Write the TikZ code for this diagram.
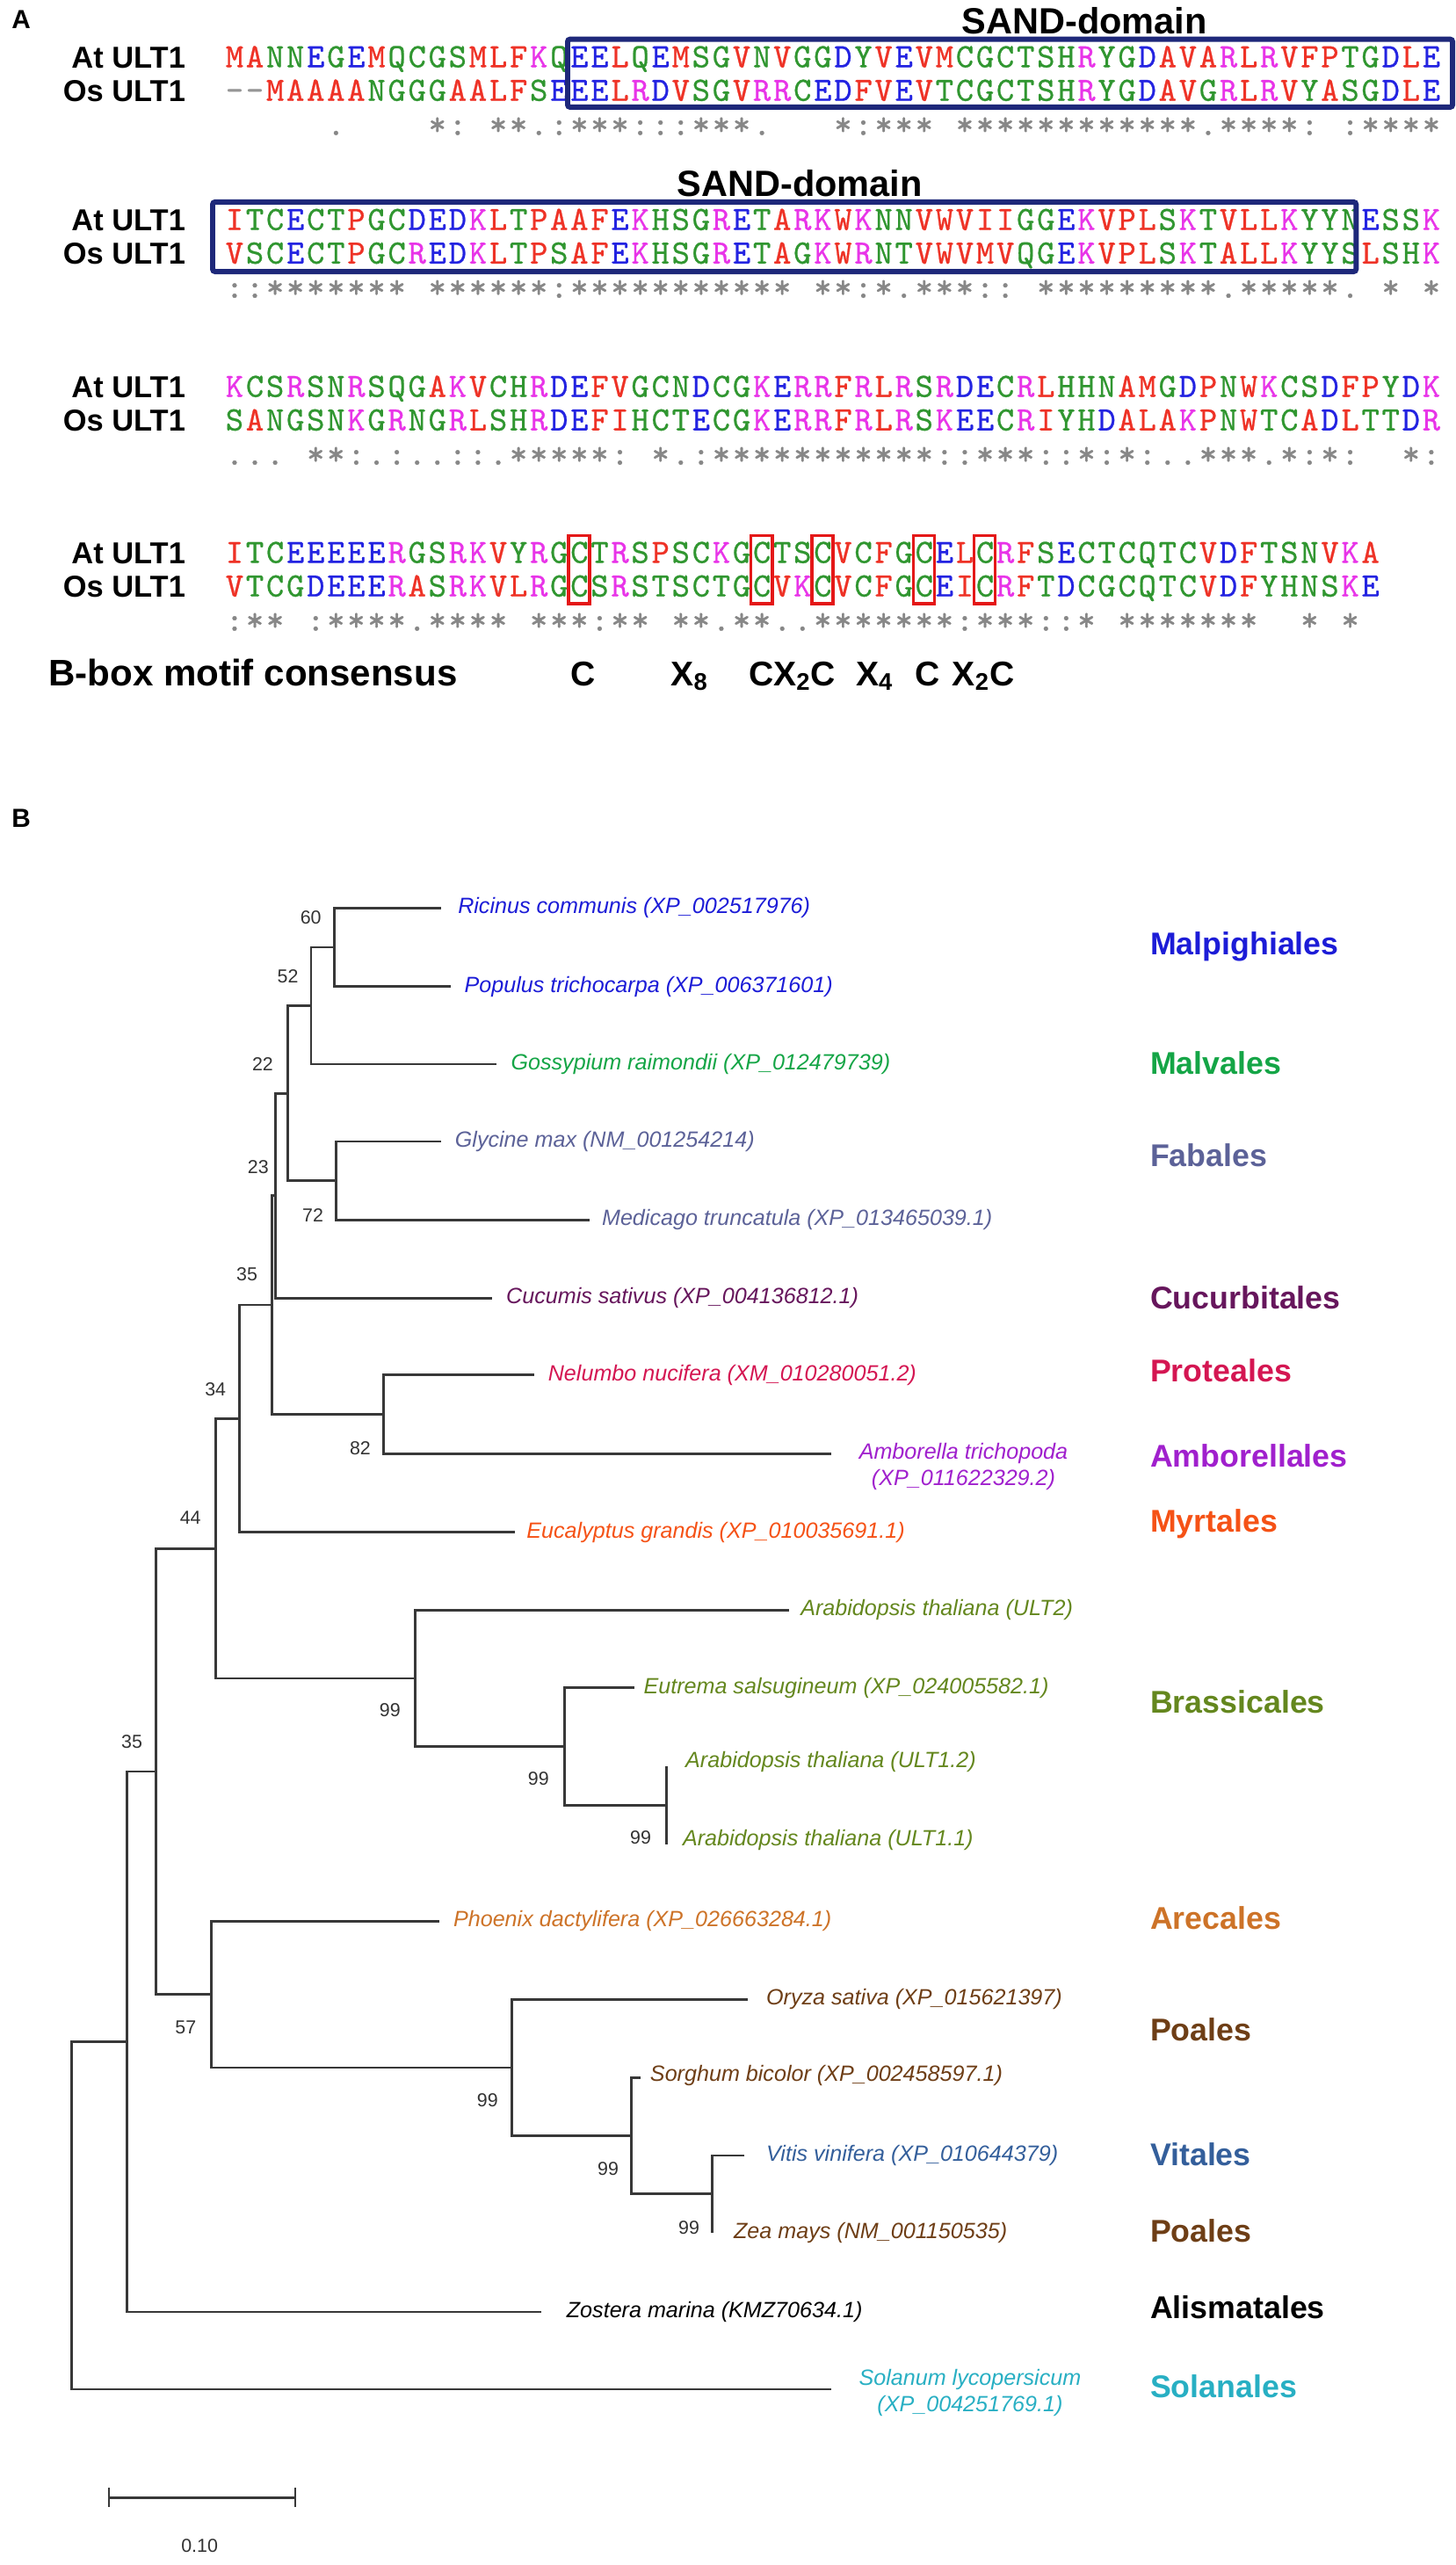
\documentclass[tikz,border=0pt]{standalone}
\usepackage{fontspec}
\setmainfont{Liberation Sans}
\newfontfamily\seqf{lmmono10-regular.otf}[FakeBold=0.7]
\definecolor{sqR}{RGB}{238,50,38}
\definecolor{sqB}{RGB}{35,35,225}
\definecolor{sqM}{RGB}{232,52,232}
\definecolor{sqG}{RGB}{48,150,48}
\definecolor{sqK}{RGB}{150,150,150}
\definecolor{consgray}{RGB}{135,135,135}
\definecolor{navy}{RGB}{30,40,122}
\definecolor{boxred}{RGB}{228,24,24}
\definecolor{cMalp}{RGB}{28,28,215}
\definecolor{cMalv}{RGB}{20,165,70}
\definecolor{cFab}{RGB}{92,98,152}
\definecolor{cCuc}{RGB}{102,22,92}
\definecolor{cPro}{RGB}{212,22,82}
\definecolor{cAmb}{RGB}{160,32,205}
\definecolor{cMyr}{RGB}{245,82,22}
\definecolor{cBra}{RGB}{100,135,30}
\definecolor{cAre}{RGB}{205,115,40}
\definecolor{cPoa}{RGB}{110,62,22}
\definecolor{cVit}{RGB}{52,95,155}
\definecolor{cSol}{RGB}{40,175,195}
\newdimen\cw \cw=12.4pt
\def\setaa#1#2{\expandafter\def\csname aac#1\endcsname{#2}}
\setaa A{sqR}\setaa V{sqR}\setaa F{sqR}\setaa P{sqR}\setaa M{sqR}\setaa I{sqR}\setaa L{sqR}\setaa W{sqR}
\setaa D{sqB}\setaa E{sqB}
\setaa R{sqM}\setaa K{sqM}
\setaa S{sqG}\setaa T{sqG}\setaa Y{sqG}\setaa H{sqG}\setaa C{sqG}\setaa N{sqG}\setaa G{sqG}\setaa Q{sqG}
\setaa -{sqK}
\def\colseq#1{\colseqi#1\relax}
\def\colseqi#1{\ifx\relax#1\else\makebox[\cw][c]{\textcolor{\csname aac#1\endcsname}{#1}}\expandafter\colseqi\fi}
\def\consq#1{\consqi#1\relax}
\def\consqi#1{\ifx\relax#1\else\makebox[\cw][c]{#1}\expandafter\consqi\fi}
\tikzset{
  seqtxt/.style={font=\seqf\fontsize{20.8}{24}\selectfont, inner sep=0pt, anchor=base west},
  consrow/.style={seqtxt, text=consgray},
  rowlab/.style={font=\bfseries\fontsize{18.5}{20}\selectfont, inner sep=0pt, anchor=base east},
  sandlab/.style={font=\bfseries\fontsize{22.3}{24}\selectfont, inner sep=0pt},
  sandbox/.style={draw=navy, line width=3.2pt, rounded corners=1.5pt},
  bboxc/.style={draw=boxred, line width=1.8pt},
  motif/.style={font=\bfseries\fontsize{21}{24}\selectfont, inner sep=0pt, anchor=base west},
  panel/.style={font=\bfseries\fontsize{16}{18}\selectfont, inner sep=0pt},
  br/.style={draw=black!78, line width=1.5pt},
  sp/.style={font=\itshape\fontsize{13.5}{16}\selectfont, inner sep=0pt, anchor=west},
  ord/.style={font=\bfseries\fontsize{19.2}{22}\selectfont, inner sep=0pt, anchor=west},
  bs/.style={font=\fontsize{11.5}{13}\selectfont, text=black!80, inner sep=0pt}
}
\begin{document}
\begin{tikzpicture}[x=1pt,y=-1pt]
\useasboundingbox (0,0) rectangle (890,1568);
% ---------------- Panel A ----------------
\node[panel] (pA) at (13,12) {A};
% block 1
\node[sandlab] (sand1) at (663,12.5) {SAND-domain};
\node[rowlab] (l1a) at (113.5,41.6) {At ULT1};
\node[rowlab] (l1o) at (113.5,62.1) {Os ULT1};
\node[seqtxt] (s1a) at (137,41.1) {\colseq{MANNEGEMQCGSMLFKQEELQEMSGVNVGGDYVEVMCGCTSHRYGDAVARLRVFPTGDLE}};
\node[seqtxt] (s1o) at (137,61.6) {\colseq{--MAAAANGGGAALFSEEELRDVSGVRRCEDFVEVTCGCTSHRYGDAVGRLRVYASGDLE}};
\node[consrow] (c1) at (137,82.6) {\consq{~~~~~.~~~~*:~**.:***:::***.~~~*:***~************.****:~:****}};
\draw[sandbox] (347,24) rectangle (888,65.5);
% block 2
\node[sandlab] (sand2) at (489,112) {SAND-domain};
\node[rowlab] (l2a) at (113.5,141.1) {At ULT1};
\node[rowlab] (l2o) at (113.5,161.6) {Os ULT1};
\node[seqtxt] (s2a) at (137,140.6) {\colseq{ITCECTPGCDEDKLTPAAFEKHSGRETARKWKNNVWVIIGGEKVPLSKTVLLKYYNESSK}};
\node[seqtxt] (s2o) at (137,161.1) {\colseq{VSCECTPGCREDKLTPSAFEKHSGRETAGKWRNTVWVMVQGEKVPLSKTALLKYYSLSHK}};
\node[consrow] (c2) at (137,182.1) {\consq{::*******~******:***********~**:*.***::~*********.*****.~*~*}};
\draw[sandbox] (130,123.5) rectangle (829,166);
% block 3
\node[rowlab] (l3a) at (113.5,243.1) {At ULT1};
\node[rowlab] (l3o) at (113.5,263.6) {Os ULT1};
\node[seqtxt] (s3a) at (137,242.6) {\colseq{KCSRSNRSQGAKVCHRDEFVGCNDCGKERRFRLRSRDECRLHHNAMGDPNWKCSDFPYDK}};
\node[seqtxt] (s3o) at (137,263.1) {\colseq{SANGSNKGRNGRLSHRDEFIHCTECGKERRFRLRSKEECRIYHDALAKPNWTCADLTTDR}};
\node[consrow] (c3) at (137,284.1) {\consq{...~**:.:..::.*****:~*.:***********::***::*:*:..***.*:*:~~*:}};
% block 4
\node[rowlab] (l4a) at (113.5,344.6) {At ULT1};
\node[rowlab] (l4o) at (113.5,365.1) {Os ULT1};
\node[seqtxt] (s4a) at (137,344.1) {\colseq{ITCEEEEERGSRKVYRGCTRSPSCKGCTSCVCFGCELCRFSECTCQTCVDFTSNVKA}};
\node[seqtxt] (s4o) at (137,364.6) {\colseq{VTCGDEEERASRKVLRGCSRSTSCTGCVKCVCFGCEICRFTDCGCQTCVDFYHNSKE}};
\node[consrow] (c4) at (137,385.6) {\consq{:**~:****.****~***:**~**.**..*******:***::*~*******~~*~*}};
\foreach \c in {18,27,30,35,38}{
  \draw[bboxc] ({137+(\c-1)*12.4-0.3},327.5) rectangle ({137+\c*12.4+0.3},369);
}
\node[motif,font=\bfseries\fontsize{22.6}{24}\selectfont] (bbl) at (29.5,419) {B-box motif consensus};
\node[motif] (m1) at (348.5,419) {C};
\node[motif] (m2) at (410,419) {X\textsubscript{8}};
\node[motif] (m3) at (457.5,419) {CX\textsubscript{2}C};
\node[motif] (m4) at (523,419) {X\textsubscript{4}};
\node[motif] (m5) at (559,419) {C};
\node[motif] (m6) at (582,419) {X\textsubscript{2}C};
% ---------------- Panel B ----------------
\node[panel] (pB) at (13,500) {B};
% tips
\coordinate (tRic) at (269.6,555.1);
\coordinate (tPop) at (275.3,603.1);
\coordinate (tGos) at (303.7,650.5);
\coordinate (tGly) at (269.6,697.8);
\coordinate (tMed) at (360.4,745.7);
\coordinate (tCuc) at (300.8,793.6);
\coordinate (tNel) at (326.4,840.4);
\coordinate (tAmb) at (508,888.6);
\coordinate (tEuc) at (315,936.6);
\coordinate (tU2) at (482.5,984.2);
\coordinate (tEut) at (387.7,1031.7);
\coordinate (tU12) at (407.5,1079.7);
\coordinate (tU11) at (407.5,1127.6);
\coordinate (tPho) at (268.5,1174.3);
\coordinate (tOry) at (456.9,1222.3);
\coordinate (tSor) at (391.6,1270.1);
\coordinate (tVit) at (455.2,1317.7);
\coordinate (tZea) at (435.3,1364.7);
\coordinate (tZos) at (330.9,1413.3);
\coordinate (tSol) at (508,1460.5);
% internal nodes
\coordinate (n60) at (204.3,579.1);
\coordinate (n52) at (190.1,614.8);
\coordinate (nFab) at (205.5,721.75);
\coordinate (n22) at (176,668.3);
\coordinate (n23) at (168.6,731);
\coordinate (n82) at (234.4,864.5);
\coordinate (n35a) at (166.3,797.7);
\coordinate (n34) at (146.4,867.2);
\coordinate (n99c) at (407.5,1103.7);
\coordinate (n99b) at (345.1,1067.7);
\coordinate (n99a) at (253.7,1026);
\coordinate (n44) at (131.7,946.6);
\coordinate (n99f) at (435.3,1341.2);
\coordinate (n99e) at (386,1305.7);
\coordinate (n99d) at (312.7,1264);
\coordinate (n57) at (129.4,1219.2);
\coordinate (n35b) at (95.4,1082.9);
\coordinate (n35c) at (77.8,1248.1);
\coordinate (root) at (43.7,1354.3);
% branches
\foreach \n/\a/\b in {n60/tRic/tPop, n52/n60/tGos, nFab/tGly/tMed, n22/n52/nFab, n23/n22/tCuc,
  n82/tNel/tAmb, n35a/n23/n82, n34/n35a/tEuc, n99c/tU12/tU11, n99b/tEut/n99c, n99a/tU2/n99b,
  n44/n34/n99a, n99f/tVit/tZea, n99e/tSor/n99f, n99d/tOry/n99e, n57/tPho/n99d, n35b/n44/n57,
  n35c/n35b/tZos, root/n35c/tSol}{
  \draw[br] (\a) -| (\n) |- (\b);
}
% species labels
\node[sp,text=cMalp] (lRic) at (279.8,555.1) {Ricinus communis (XP\_002517976)};
\node[sp,text=cMalp] (lPop) at (283.8,603.1) {Populus trichocarpa (XP\_006371601)};
\node[sp,text=cMalv] (lGos) at (312.2,650.5) {Gossypium raimondii (XP\_012479739)};
\node[sp,text=cFab] (lGly) at (278,697.8) {Glycine max (NM\_001254214)};
\node[sp,text=cFab] (lMed) at (367.8,745.7) {Medicago truncatula (XP\_013465039.1)};
\node[sp,text=cCuc] (lCuc) at (309.3,793.6) {Cucumis sativus (XP\_004136812.1)};
\node[sp,text=cPro] (lNel) at (334.9,840.4) {Nelumbo nucifera (XM\_010280051.2)};
\node[sp,text=cAmb,anchor=center,align=center] (lAmb) at (589,896.5) {Amborella trichopoda\\(XP\_011622329.2)};
\node[sp,text=cMyr] (lEuc) at (321.8,936.6) {Eucalyptus grandis (XP\_010035691.1)};
\node[sp,text=cBra] (lU2) at (489.3,984.2) {Arabidopsis thaliana (ULT2)};
\node[sp,text=cBra] (lEut) at (393.3,1031.7) {Eutrema salsugineum (XP\_024005582.1)};
\node[sp,text=cBra] (lU12) at (418.9,1077) {Arabidopsis thaliana (ULT1.2)};
\node[sp,text=cBra] (lU11) at (417.2,1125) {Arabidopsis thaliana (ULT1.1)};
\node[sp,text=cAre] (lPho) at (277,1174.3) {Phoenix dactylifera (XP\_026663284.1)};
\node[sp,text=cPoa] (lOry) at (468.3,1222.3) {Oryza sativa (XP\_015621397)};
\node[sp,text=cPoa] (lSor) at (397.3,1269) {Sorghum bicolor (XP\_002458597.1)};
\node[sp,text=cVit] (lVit) at (468.3,1317.7) {Vitis vinifera (XP\_010644379)};
\node[sp,text=cPoa] (lZea) at (448.4,1364.7) {Zea mays (NM\_001150535)};
\node[sp,text=black] (lZos) at (346.2,1413.3) {Zostera marina (KMZ70634.1)};
\node[sp,text=cSol,anchor=center,align=center] (lSol) at (593,1462.7) {Solanum lycopersicum\\(XP\_004251769.1)};
% bootstrap values
\node[bs] (b60) at (190,561) {60};
\node[bs] (b52) at (176,597) {52};
\node[bs] (b22) at (160.6,650.5) {22};
\node[bs] (b23) at (157.8,713.3) {23};
\node[bs] (b72) at (191.3,742.8) {72};
\node[bs] (b35a) at (151,779) {35};
\node[bs] (b34) at (131.7,849.4) {34};
\node[bs] (b82) at (220.2,885.5) {82};
\node[bs] (b44) at (116.4,928) {44};
\node[bs] (b99a) at (238.4,1045.6) {99};
\node[bs] (b99b) at (329.2,1087.3) {99};
\node[bs] (b99c) at (391.6,1123.5) {99};
\node[bs] (b35b) at (80.6,1064.8) {35};
\node[bs] (b57) at (113.5,1239.5) {57};
\node[bs] (b99d) at (298,1283.8) {99};
\node[bs] (b99e) at (371.8,1326) {99};
\node[bs] (b99f) at (421.2,1361.7) {99};
% order labels
\node[ord,text=cMalp] (oMalp) at (703,578.6) {Malpighiales};
\node[ord,text=cMalv] (oMalv) at (703,649.8) {Malvales};
\node[ord,text=cFab] (oFab) at (703,706) {Fabales};
\node[ord,text=cCuc] (oCuc) at (703,793) {Cucurbitales};
\node[ord,text=cPro] (oPro) at (703,838) {Proteales};
\node[ord,text=cAmb] (oAmb) at (703,889.8) {Amborellales};
\node[ord,text=cMyr] (oMyr) at (703,931.8) {Myrtales};
\node[ord,text=cBra] (oBra) at (703,1040.1) {Brassicales};
\node[ord,text=cAre] (oAre) at (703,1172.6) {Arecales};
\node[ord,text=cPoa] (oPoa1) at (703,1240.7) {Poales};
\node[ord,text=cVit] (oVit) at (703,1317.1) {Vitales};
\node[ord,text=cPoa] (oPoa2) at (703,1363.7) {Poales};
\node[ord,text=black] (oAli) at (703,1410.3) {Alismatales};
\node[ord,text=cSol] (oSol) at (703,1458.9) {Solanales};
% scale bar
\coordinate (sb1) at (66.4,1526.7);
\coordinate (sb2) at (180.5,1526.7);
\draw[br] (sb1) -- (sb2);
\draw[br,line width=1pt] ([yshift=6pt]sb1) -- ([yshift=-6pt]sb1);
\draw[br,line width=1pt] ([yshift=6pt]sb2) -- ([yshift=-6pt]sb2);
\node[bs] (sbl) at (122,1556.4) {0.10};
\end{tikzpicture}
\end{document}
